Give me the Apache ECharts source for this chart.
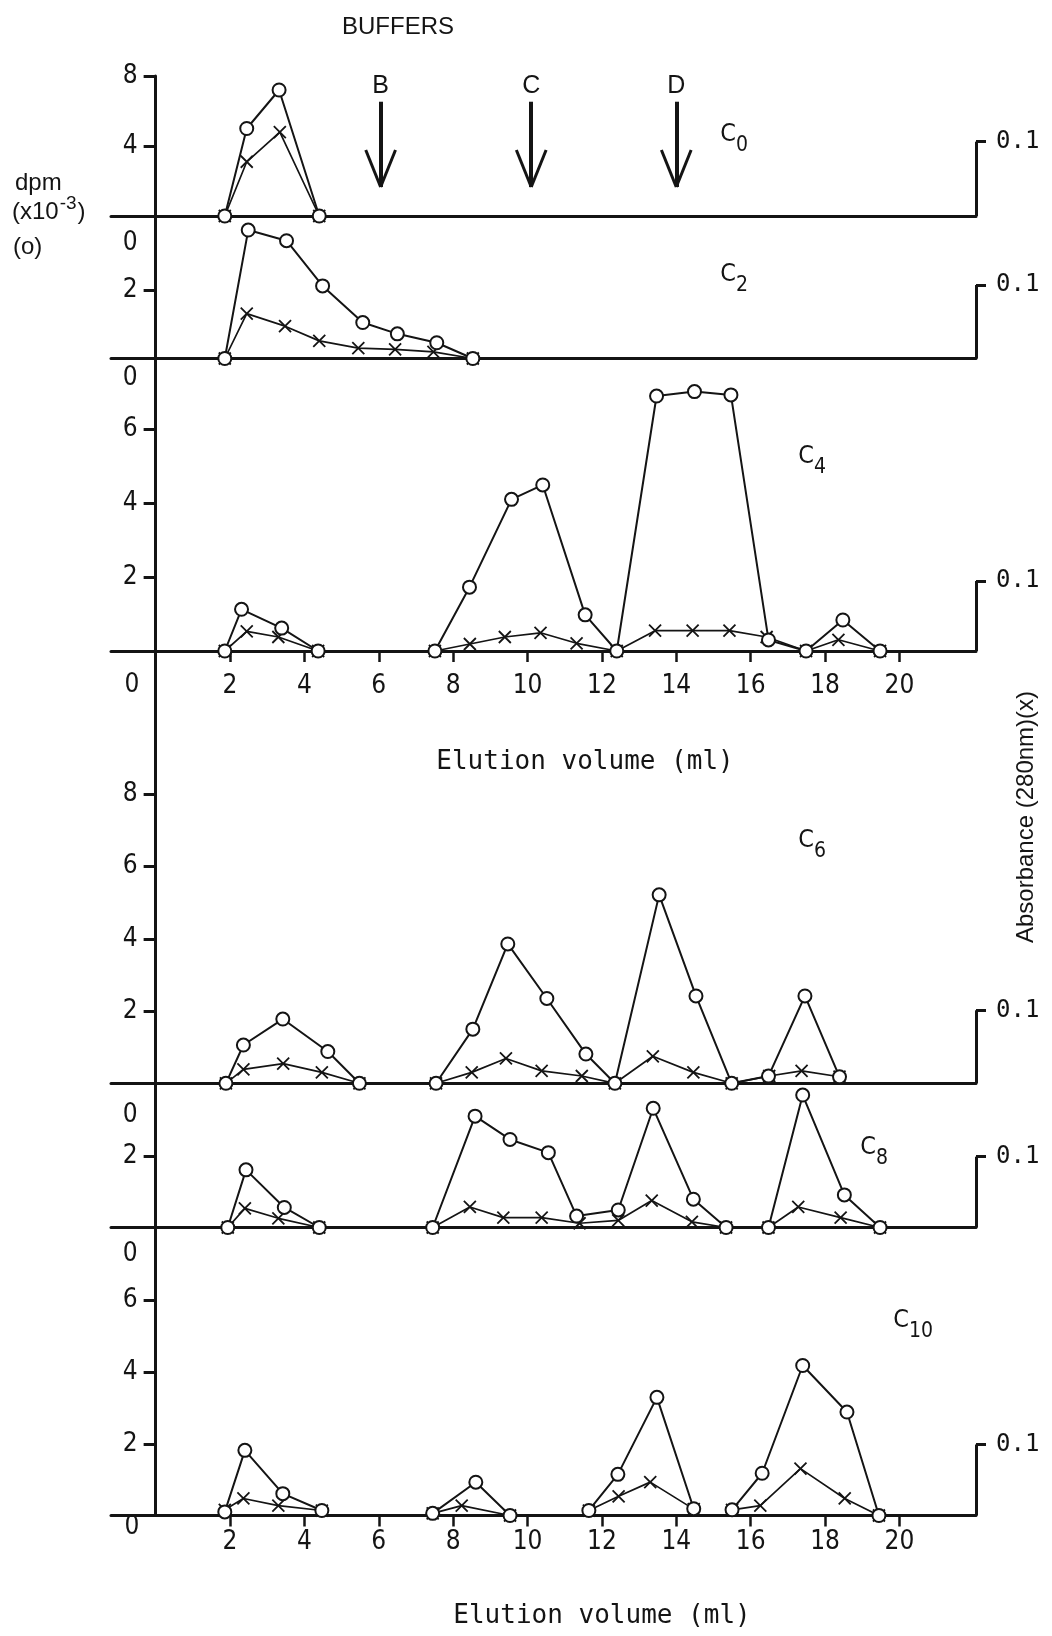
<!DOCTYPE html>
<html><head><meta charset="utf-8">
<script src="https://cdn.jsdelivr.net/npm/echarts@6/dist/echarts.min.js"></script>
<style>html,body{margin:0;padding:0;background:#fff}#c{width:1052px;height:1636px}</style>
</head><body><div id="c"></div>
<script>
// ================= DATA =================
const panelNames = ['C0', 'C2', 'C4', 'C6', 'C8', 'C10'];
const xTickValues = [2, 4, 6, 8, 10, 12, 14, 16, 18, 20];
const bufferNames = ['B', 'C', 'D'];
const bufferVolumes = [6.05, 10.1, 14.0];
const absScaleMark = 0.1;

// dpm (x10^-3), open circles  -- [elution volume ml, dpm]
const c0Dpm = [[1.86,0],[2.45,5.0],[3.32,7.2],[4.40,0]];
const c2Dpm = [[1.86,0],[2.49,3.75],[3.52,3.44],[4.49,2.12],[5.57,1.05],[6.50,0.72],[7.56,0.46],[8.53,0]];
const c4Dpm = [[1.86,0],[2.31,1.13],[3.39,0.62],[4.37,0],null,[7.51,0],[8.44,1.73],[9.57,4.11],[10.41,4.50],[11.55,0.98],[12.40,0],[13.47,6.91],[14.49,7.03],[15.47,6.94],[16.48,0.3],[17.49,0],[18.48,0.84],[19.48,0]];
const c6Dpm = [[1.89,0],[2.36,1.06],[3.42,1.78],[4.63,0.88],[5.48,0],null,[7.54,0],[8.53,1.50],[9.47,3.86],[10.52,2.35],[11.57,0.81],[12.35,0],[13.54,5.22],[14.53,2.42],[15.49,0],[16.48,0.2],[17.46,2.42],[18.39,0.18]];
const c8Dpm = [[1.94,0],[2.43,1.61],[3.46,0.56],[4.40,0],null,[7.45,0],[8.59,3.11],[9.53,2.46],[10.56,2.09],[11.32,0.32],[12.44,0.49],[13.38,3.33],[14.46,0.79],[15.34,0],[16.48,0],[17.40,3.70],[18.52,0.91],[19.48,0]];
const c10Dpm = [[1.86,0.1],[2.40,1.82],[3.42,0.61],[4.47,0.14],null,[7.45,0.06],[8.61,0.93],[9.53,0],null,[11.65,0.14],[12.43,1.15],[13.48,3.30],[14.47,0.19],null,[15.50,0.16],[16.31,1.18],[17.40,4.19],[18.59,2.89],[19.45,0]];

// Absorbance 280 nm, crosses -- [elution volume ml, A280]
const c0Abs = [[1.86,0],[2.45,0.073],[3.34,0.113],[4.40,0]];
const c2Abs = [[1.86,0],[2.45,0.061],[3.48,0.044],[4.40,0.024],[5.45,0.014],[6.44,0.0125],[7.47,0.009],[8.53,0]];
const c4Abs = [[1.86,0],[2.45,0.028],[3.30,0.020],[4.37,0],null,[7.51,0],[8.45,0.010],[9.39,0.020],[10.35,0.026],[11.32,0.011],[12.40,0],[13.43,0.029],[14.44,0.029],[15.43,0.029],[16.43,0.020],[17.49,0],[18.36,0.016],[19.48,0]];
const c6Abs = [[1.89,0],[2.36,0.019],[3.43,0.027],[4.47,0.015],[5.48,0],null,[7.54,0],[8.50,0.015],[9.42,0.034],[10.38,0.017],[11.46,0.010],[12.35,0],[13.37,0.037],[14.46,0.015],[15.49,0],[16.50,0.010],[17.37,0.017],[18.39,0.009]];
const c8Abs = [[1.94,0],[2.40,0.027],[3.30,0.013],[4.40,0],null,[7.45,0],[8.45,0.029],[9.35,0.014],[10.38,0.014],[11.40,0.006],[12.44,0.010],[13.34,0.038],[14.42,0.008],[15.34,0],[16.48,0],[17.28,0.029],[18.42,0.014],[19.48,0]];
const c10Abs = [[1.86,0.008],[2.36,0.024],[3.30,0.014],[4.47,0.007],null,[7.45,0.003],[8.23,0.014],[9.53,0],null,[11.65,0.007],[12.45,0.027],[13.30,0.047],[14.47,0.009],null,[15.50,0.008],[16.26,0.014],[17.34,0.066],[18.53,0.024],[19.45,0]];

// left-axis tick marks and tick labels as printed
const yTickValues  = [[4,8],[2],[2,4,6],[2,4,6,8],[2],[2,4,6]];
const yLabelValues = [[4,8],[2,3.37],[2,4,6,7.4],[2,4,6,8],[2,3.13],[2,4,6,7.3]];
const yLabelTexts  = [['4','8'],['2','0'],['2','4','6','0'],['2','4','6','8'],['2','0'],['2','4','6','0']];
const originLabel = '0';

const dpmSeries = [c0Dpm, c2Dpm, c4Dpm, c6Dpm, c8Dpm, c10Dpm];
const absSeries = [c0Abs, c2Abs, c4Abs, c6Abs, c8Abs, c10Abs];

// ================= LAYOUT / STYLE =================
const INK = '#141414';
const FONT = '"Liberation Sans Narrow","DejaVu Sans Condensed","Liberation Sans",sans-serif';
const FONT_R = '"Liberation Sans","DejaVu Sans",sans-serif';
const MONO = '"DejaVu Sans Mono","Liberation Mono",monospace';
const gridLeft = 111, gridWidth = 865;
const xMin = -1.2, xMax = 22.06;
const yAxisShift = -(0 - xMin) * gridWidth / (xMax - xMin); // y axis sits at x = 0 ml
const panelLayout = [
  {top: 76,     bottom: 216,    pxPerUnit: 17.5,  bracketPx: 74.3, absDy: 5,   xLabels: false},
  {top: 216,    bottom: 358.5,  pxPerUnit: 34.25, bracketPx: 73.5, absDy: -2,  xLabels: false},
  {top: 358.5,  bottom: 651,    pxPerUnit: 36.9,  bracketPx: 70,   absDy: 4,   xLabels: true, xMargin: 22, originDy: 34},
  {top: 651,    bottom: 1083.3, pxPerUnit: 36.1,  bracketPx: 73,   absDy: 11,  xLabels: false},
  {top: 1083.3, bottom: 1227.5, pxPerUnit: 35.8,  bracketPx: 70.8, absDy: -14, xLabels: false},
  {top: 1227.5, bottom: 1515.5, pxPerUnit: 35.8,  bracketPx: 71,   absDy: 3,   xLabels: true, xMargin: 14, originDy: 12}
];
const originLabelX = 132;
const arrowTop = 6.53, arrowTip = 1.66, armDx = 0.40, armRise = 2.11;
const xSymbol = 'path://M0,0L10,10M10,0L0,10';

const grids = [], xAxes = [], yAxes = [], series = [];
panelLayout.forEach((L, i) => {
  const h = L.bottom - L.top;
  const dpmMax = h / L.pxPerUnit;
  const absMax = absScaleMark * h / L.bracketPx;
  grids.push({left: gridLeft, width: gridWidth, top: L.top, height: h, containLabel: false, outerBoundsMode: 'none'});
  xAxes.push({
    type: 'value', gridIndex: i, min: xMin, max: xMax, position: 'bottom',
    axisLine: {show: true, onZero: false, lineStyle: {color: INK, width: 3}},
    axisTick: {show: L.xLabels, customValues: xTickValues, length: 11, lineStyle: {color: INK, width: 2.5}},
    axisLabel: {show: L.xLabels, customValues: xTickValues, margin: L.xMargin || 20, fontSize: 26, fontFamily: FONT, color: INK},
    splitLine: {show: false}
  });
  const vals = yLabelValues[i], texts = yLabelTexts[i];
  yAxes.push({
    type: 'value', gridIndex: i, min: 0, max: dpmMax, position: 'left', offset: yAxisShift,
    axisLine: {show: true, onZero: false, lineStyle: {color: INK, width: 3}},
    axisTick: {show: true, customValues: yTickValues[i], length: 12, lineStyle: {color: INK, width: 3}},
    axisLabel: {
      customValues: vals, margin: 18, fontSize: 26, fontFamily: FONT, color: INK,
      formatter: (v) => {
        const k = vals.findIndex(u => Math.abs(u - v) < 1e-6);
        return k >= 0 ? texts[k] : '';
      }
    },
    splitLine: {show: false}
  });
  const dy = L.absDy;
  yAxes.push({
    type: 'value', gridIndex: i, min: 0, max: absMax, position: 'right',
    axisLine: {show: false, onZero: false},
    axisTick: {show: true, customValues: [absScaleMark], length: 10, lineStyle: {color: INK, width: 3}},
    axisLabel: {
      customValues: [absScaleMark], margin: 20, fontSize: 24, fontFamily: MONO, color: INK,
      padding: dy >= 0 ? [2 * dy, 0, 0, 0] : [0, 0, -2 * dy, 0],
      formatter: () => String(absScaleMark)
    },
    splitLine: {show: false}
  });
  // crosses: absorbance
  series.push({
    type: 'line', xAxisIndex: i, yAxisIndex: 2 * i + 1, data: absSeries[i],
    symbol: xSymbol, symbolSize: 12, clip: false, connectNulls: false,
    lineStyle: {color: INK, width: 1.7},
    itemStyle: {color: INK, borderColor: INK, borderWidth: 1.8},
    emphasis: {disabled: true},
    markLine: {
      silent: true, symbol: 'none', animation: false, label: {show: false},
      lineStyle: {color: INK, width: 3, type: 'solid'},
      data: [[{coord: [xMax, 0]}, {coord: [xMax, absScaleMark]}]]
    }
  });
  // circles: dpm
  const circle = {
    type: 'line', xAxisIndex: i, yAxisIndex: 2 * i, data: dpmSeries[i],
    symbol: 'emptyCircle', symbolSize: 13, clip: false, connectNulls: false,
    lineStyle: {color: INK, width: 2},
    itemStyle: {color: INK, borderColor: INK, borderWidth: 2},
    emphasis: {disabled: true}
  };
  if (i === 0) {
    const ml = [];
    bufferVolumes.forEach((v, k) => {
      ml.push([{coord: [v, arrowTop], label: {show: true, formatter: bufferNames[k], position: 'start', distance: 3, fontSize: 25, fontFamily: FONT_R, color: INK}}, {coord: [v, arrowTip]}]);
      ml.push([{coord: [v - armDx, arrowTip + armRise], lineStyle: {width: 3}}, {coord: [v, arrowTip]}]);
      ml.push([{coord: [v + armDx, arrowTip + armRise], lineStyle: {width: 3}}, {coord: [v, arrowTip]}]);
    });
    circle.markLine = {silent: true, symbol: 'none', animation: false, label: {show: false},
      lineStyle: {color: INK, width: 4, type: 'solid'}, data: ml};
  }
  series.push(circle);
});

// ---- free text ----
const mctx = document.createElement('canvas').getContext('2d');
function tw(text, size, fam) { mctx.font = size + 'px ' + fam; return mctx.measureText(text).width; }
function txt(text, x, y, size, fam, align, extra) {
  return Object.assign({type: 'text', x: x, y: y, silent: true,
    style: {text: text, fontSize: size, fontFamily: fam, fill: INK, align: align || 'center', verticalAlign: 'middle',
            textAlign: align || 'center', textVerticalAlign: 'middle'}}, extra || {});
}
const graphic = [];
graphic.push(txt('BUFFERS', 398, 27, 24, FONT_R));
graphic.push(txt('dpm', 15, 183, 24, FONT_R, 'left'));
const w1 = tw('(x10', 24, FONT_R);
graphic.push(txt('(x10', 12, 212, 24, FONT_R, 'left'));
graphic.push(txt('-3', 12 + w1 + 1, 204, 19, FONT_R, 'left'));
graphic.push(txt(')', 12 + w1 + 1 + tw('-3', 19, FONT_R) + 1, 212, 24, FONT_R, 'left'));
graphic.push(txt('(o)', 13, 247, 24, FONT_R, 'left'));
graphic.push(txt('Elution volume (ml)', 585, 762, 26, MONO));
graphic.push(txt('Elution volume (ml)', 602, 1616, 26, MONO));
graphic.push(txt('Absorbance (280nm)(x)', 1026, 817, 24, FONT_R, 'center', {rotation: Math.PI / 2}));
panelLayout.forEach(L => {
  if (L.originDy) graphic.push(txt(originLabel, originLabelX, L.bottom + L.originDy, 26, FONT));
});
const panelLabelPos = [[728,134],[728,274],[806,456],[806,840],[868,1147],[901,1320]];
panelNames.forEach((n, i) => {
  const [x, y] = panelLabelPos[i];
  graphic.push(txt('C', x, y, 25, FONT));
  graphic.push(txt(n.slice(1), x + 8, y + 12, 21, FONT, 'left'));
});

const chart = echarts.init(document.getElementById('c'), null, {renderer: 'canvas'});
chart.setOption({
  backgroundColor: '#ffffff',
  animation: false,
  grid: grids, xAxis: xAxes, yAxis: yAxes, series: series,
  graphic: graphic
});
</script></body></html>
